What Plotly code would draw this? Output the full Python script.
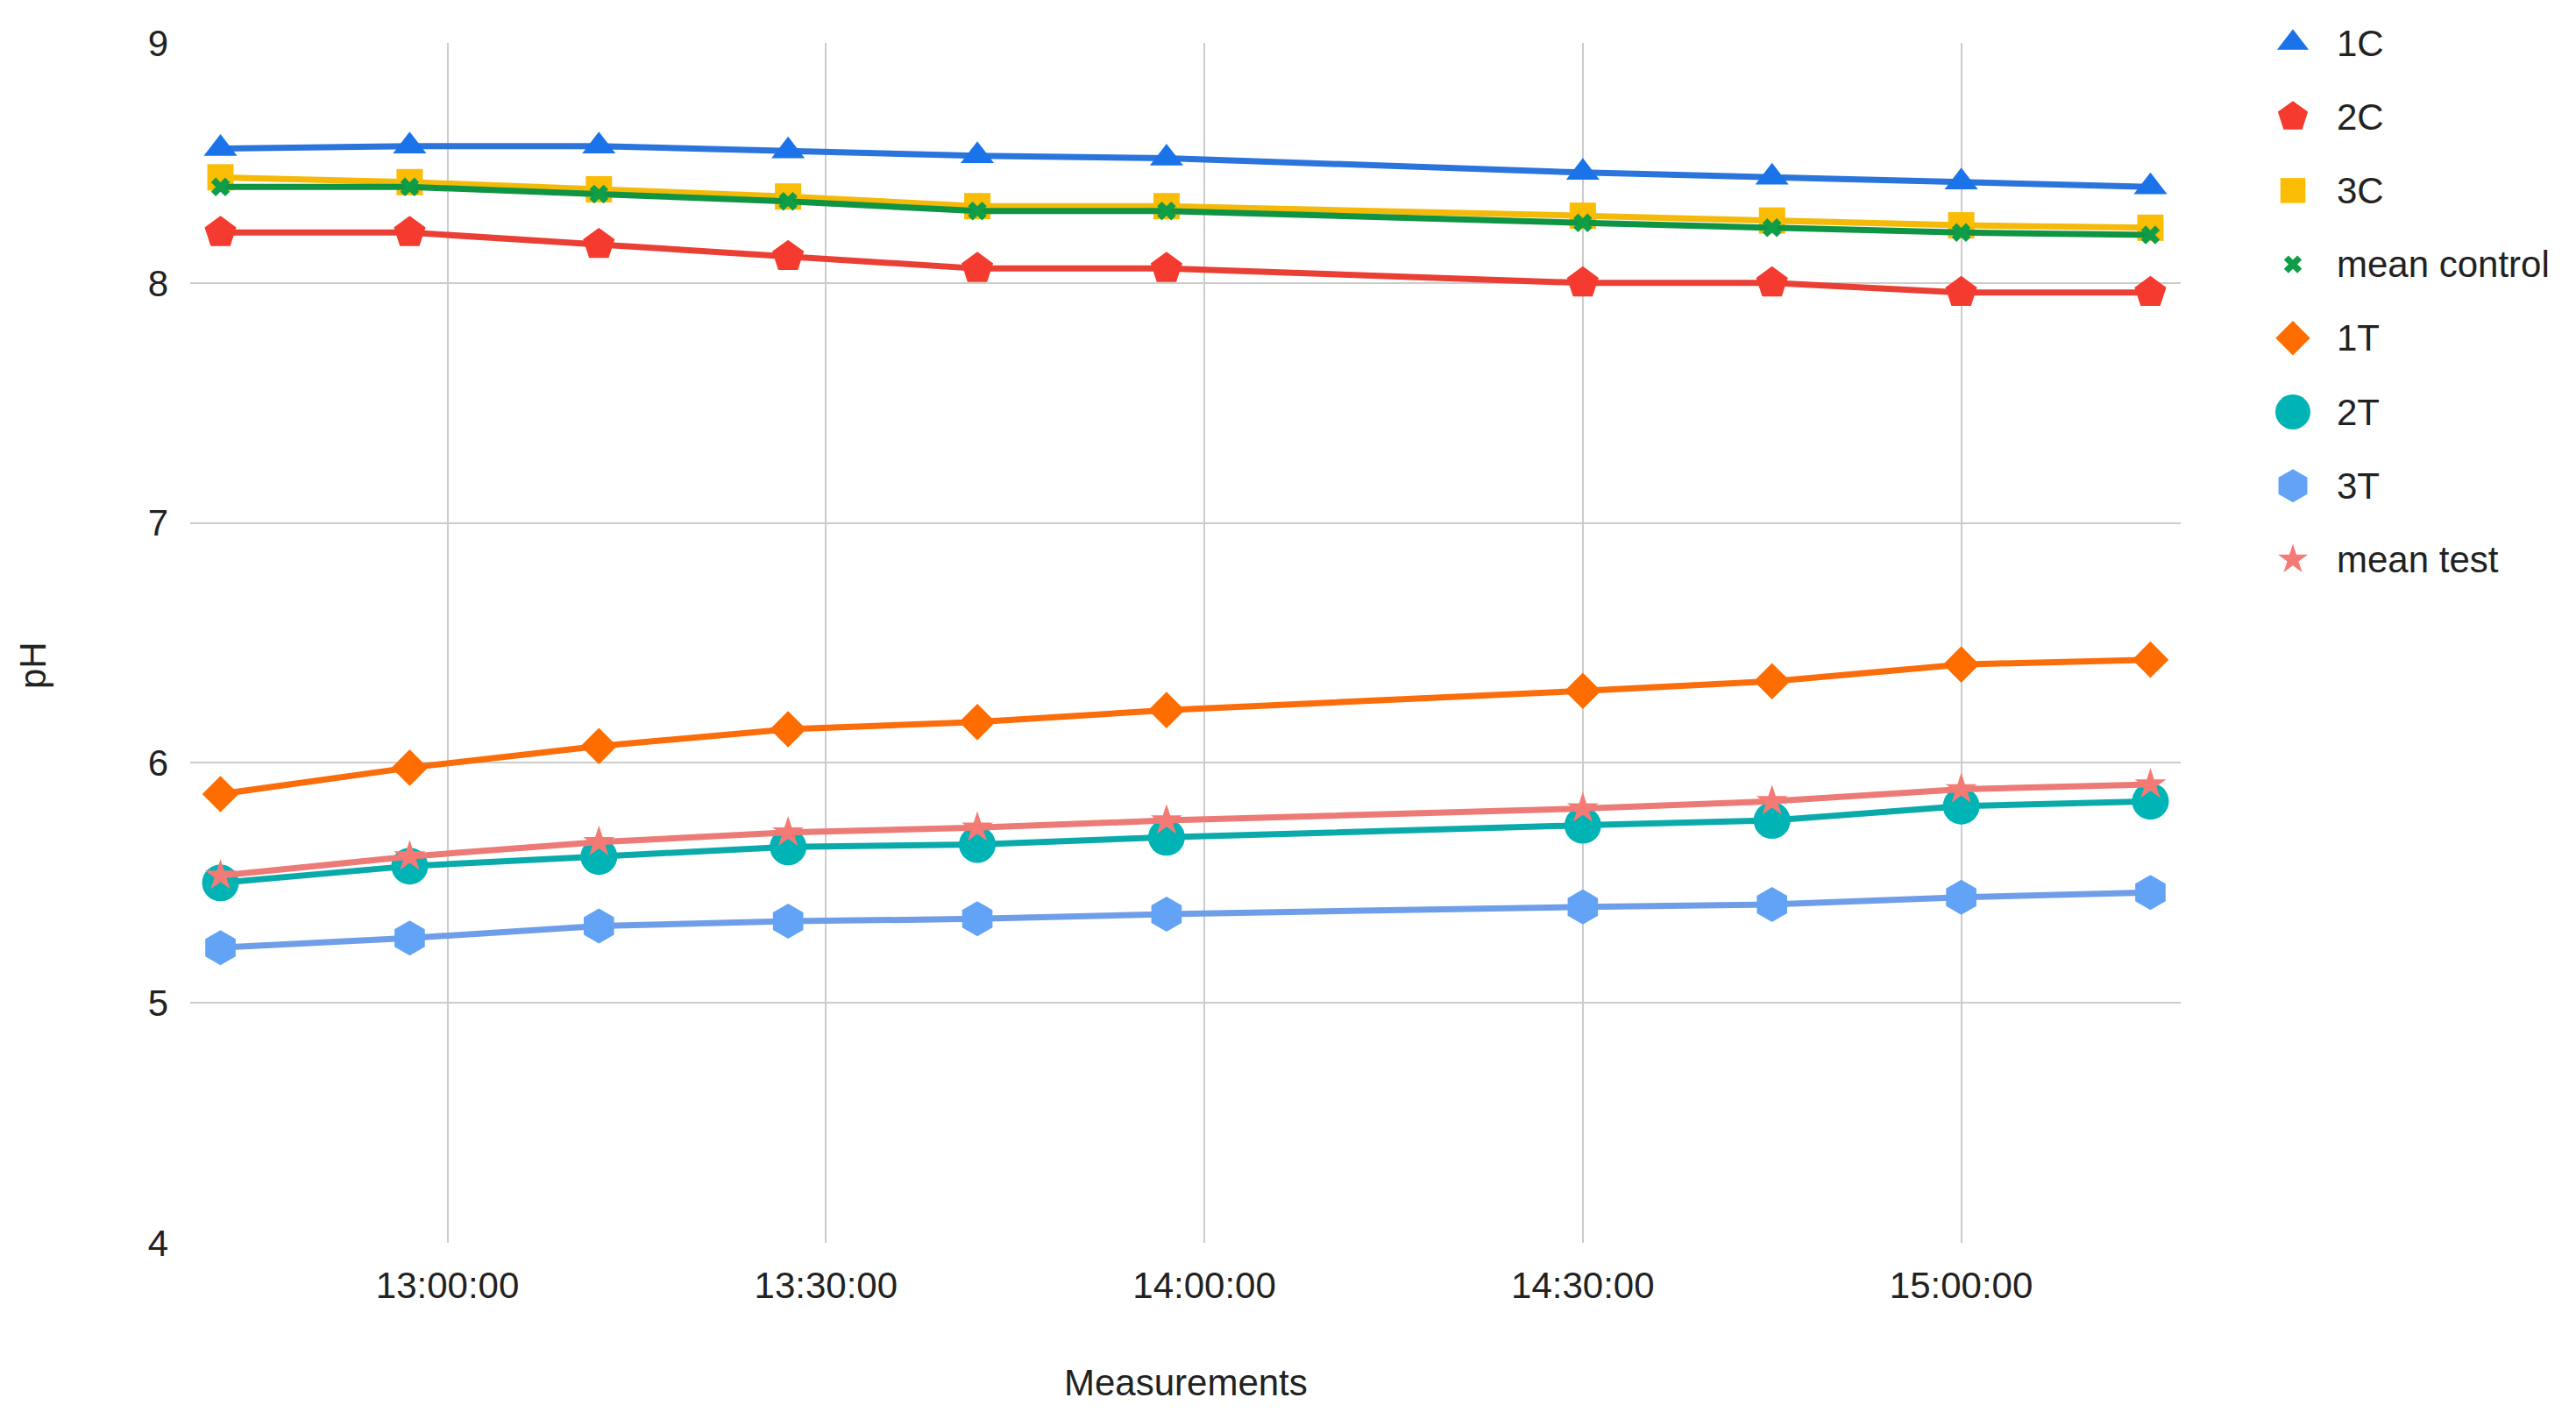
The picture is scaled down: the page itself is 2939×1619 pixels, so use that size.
import plotly.graph_objects as go

# ---- data ----
times = ["12:42", "12:57", "13:12", "13:27", "13:42", "13:57", "14:30", "14:45", "15:00", "15:15"]
series_names = ["1C", "2C", "3C", "mean control", "1T", "2T", "3T", "mean test"]
ph_1C = [8.56, 8.57, 8.57, 8.55, 8.53, 8.52, 8.46, 8.44, 8.42, 8.40]
ph_2C = [8.21, 8.21, 8.16, 8.11, 8.06, 8.06, 8.00, 8.00, 7.96, 7.96]
ph_3C = [8.44, 8.42, 8.39, 8.36, 8.32, 8.32, 8.28, 8.26, 8.24, 8.23]
ph_mean_control = [8.40, 8.40, 8.37, 8.34, 8.30, 8.30, 8.25, 8.23, 8.21, 8.20]
ph_1T = [5.87, 5.98, 6.07, 6.14, 6.17, 6.22, 6.30, 6.34, 6.41, 6.43]
ph_2T = [5.50, 5.57, 5.61, 5.65, 5.66, 5.69, 5.74, 5.76, 5.82, 5.84]
ph_3T = [5.23, 5.27, 5.32, 5.34, 5.35, 5.37, 5.40, 5.41, 5.44, 5.46]
ph_mean_test = [5.53, 5.61, 5.67, 5.71, 5.73, 5.76, 5.81, 5.84, 5.89, 5.91]
y_ticks = [4, 5, 6, 7, 8, 9]
x_tick_labels = ["13:00:00", "13:30:00", "14:00:00", "14:30:00", "15:00:00"]

values = [ph_1C, ph_2C, ph_3C, ph_mean_control, ph_1T, ph_2T, ph_3T, ph_mean_test]

# ---- styles ----
colors = ["#1a73e8", "#F53B2F", "#FBBC04", "#109D48", "#FF6D01", "#00B3B5", "#62A3F6", "#F47A76"]
line_colors = ["#2a74dc", "#ea3f35", "#f5b90a", "#0f9444", "#fb6c0a", "#0aaaab", "#6f9ee8", "#ec7a76"]
symbols = ["triangle-up", "pentagon", "square", "x", "diamond", "circle", "hexagon", "star"]
sizes = [33, 38, 30, 19, 32, 42, 40, 27]

DAY = "2024-01-01 "
xs = [DAY + t + ":00" for t in times]
tickvals = [DAY + t for t in x_tick_labels]

BODY = 8  # default page body margin
W, H = 2939, 1619
PLOT_LEFT, PLOT_RIGHT, PLOT_TOP, PLOT_BOTTOM = 217, 2488, 49, 1418
ML = PLOT_LEFT - BODY
MT = PLOT_TOP - BODY
MR = 20
MB = H - PLOT_BOTTOM + BODY
paper_w = W - ML - MR
main_dom = (PLOT_RIGHT - PLOT_LEFT) / paper_w
LEG_X = 2616
leg_dom0 = (LEG_X - PLOT_LEFT) / paper_w
ITEM_GAP = 84.2
plot_h = PLOT_BOTTOM - PLOT_TOP

FONT = "Liberation Sans, Arial"
FS = 42
TXT = "#222222"

fig = go.Figure()
for name, vals, c, lc, s, sz in zip(series_names, values, colors, line_colors, symbols, sizes):
    fig.add_trace(go.Scatter(
        x=xs, y=vals, name=name, mode="lines+markers",
        line=dict(color=lc, width=7),
        marker=dict(color=c, symbol=s, size=sz, line=dict(width=0)),
        showlegend=False, cliponaxis=False,
    ))

# manual legend on a hidden axis pair
for i, (name, c, s, sz) in enumerate(zip(series_names, colors, symbols, sizes)):
    fig.add_trace(go.Scatter(
        x=[0], y=[i], mode="markers", xaxis="x2", yaxis="y2",
        marker=dict(color=c, symbol=s, size=sz * 0.95, line=dict(width=0)),
        showlegend=False, cliponaxis=False, hoverinfo="skip",
    ))
    fig.add_annotation(x=0, y=i, xref="x2", yref="y2", text=name, showarrow=False,
                       xanchor="left", yanchor="middle", xshift=48,
                       font=dict(family=FONT, size=FS, color=TXT))

fig.update_layout(
    width=W, height=H,
    margin=dict(l=ML, r=MR, t=MT, b=MB),
    paper_bgcolor="white", plot_bgcolor="white",
    showlegend=False,
    font=dict(family=FONT, size=FS, color=TXT),
    xaxis=dict(
        type="date", domain=[0, main_dom],
        range=[DAY + "12:39:36", DAY + "15:17:24"],
        tickvals=tickvals, ticktext=x_tick_labels,
        showgrid=True, gridcolor="#cccccc", gridwidth=2,
        showline=False, zeroline=False, ticks="",
        ticklabelstandoff=20,
        tickfont=dict(family=FONT, size=FS, color=TXT),
    ),
    yaxis=dict(
        range=[4, 9], tickvals=y_ticks,
        showgrid=True, gridcolor="#cccccc", gridwidth=2,
        showline=False, zeroline=False, ticks="",
        ticklabelstandoff=24,
        tickfont=dict(family=FONT, size=FS, color=TXT),
    ),
    xaxis2=dict(domain=[leg_dom0, 1], range=[0, 1], visible=False, fixedrange=True),
    yaxis2=dict(domain=[0, 1], range=[plot_h / ITEM_GAP, 0], visible=False, fixedrange=True,
                anchor="x2"),
)

fig.add_annotation(text="Measurements", xref="x domain", yref="paper", x=0.5,
                   y=(PLOT_BOTTOM - 1577) / plot_h,
                   showarrow=False, xanchor="center", yanchor="middle",
                   font=dict(family=FONT, size=FS, color=TXT))
fig.add_annotation(text="pH", xref="paper", yref="paper", x=(37 - PLOT_LEFT) / paper_w,
                   y=(PLOT_BOTTOM - 759) / plot_h,
                   showarrow=False, xanchor="center", yanchor="middle", textangle=-90,
                   font=dict(family=FONT, size=FS, color=TXT))

fig.write_html("out.html")
